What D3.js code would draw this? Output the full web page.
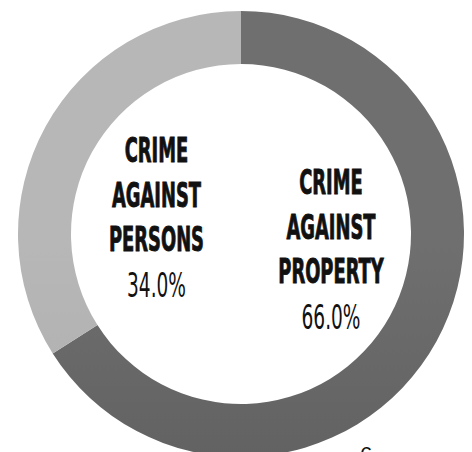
<!DOCTYPE html>
<html lang="en">

<head>
    <script src="https://d3js.org/d3.v7.min.js"></script>
    <meta charset="utf-8" />
    <style>
        body { margin: 0; background: #fff; }
    </style>
</head>

<body>
    <script>

        const w = 472;
        const h = 452;

        // data
        const categories = ["Crime against property", "Crime against persons"];
        const shares = [66.0, 34.0];
        const labelLines = [
            ["CRIME", "AGAINST", "PROPERTY"],
            ["CRIME", "AGAINST", "PERSONS"]
        ];
        const pctLabels = ["66.0%", "34.0%"];

        const cx = 241, cy = 234;
        const outerR = 223, innerR = 170;

        const svg = d3.select("body")
            .append("svg")
            .attr("width", w)
            .attr("height", h);

        // slight top-to-bottom shading on each slice
        const defs = svg.append("defs");
        const grads = [["#6f6f6f", "#545454"], ["#b7b7b7", "#a6a6a6"]];
        grads.forEach((g, i) => {
            const lg = defs.append("linearGradient")
                .attr("id", "grad" + i)
                .attr("gradientUnits", "userSpaceOnUse")
                .attr("x1", 0).attr("y1", cy - outerR)
                .attr("x2", 0).attr("y2", cy + outerR);
            lg.append("stop").attr("offset", "0%").attr("stop-color", g[0]);
            lg.append("stop").attr("offset", "100%").attr("stop-color", g[1]);
        });

        const pie = d3.pie().sort(null).value(d => d);
        const arc = d3.arc().innerRadius(innerR).outerRadius(outerR);

        svg.append("g")
            .attr("transform", `translate(${cx},${cy})`)
            .selectAll("path")
            .data(pie(shares))
            .enter()
            .append("path")
            .attr("d", arc)
            .attr("fill", (d, i) => `url(#grad${i})`)
            .append("title")
            .text((d, i) => categories[i]);

        // label anchors (centre x, first baseline)
        const labelPos = [[331, 194], [156.5, 162]];
        const lineGap = 44.7;
        const fontStack = "'Liberation Sans Narrow', 'DejaVu Sans Condensed', 'DejaVu Sans', sans-serif";

        // squeeze the installed font horizontally so it looks like the condensed poster face
        function squeeze(sample, weight, targetW) {
            const t = svg.append("text")
                .style("font-family", fontStack)
                .style("font-stretch", "condensed")
                .style("font-weight", weight)
                .style("font-size", "34px")
                .text(sample);
            const len = t.node().getComputedTextLength();
            t.remove();
            return targetW / len;
        }
        const sxBold = squeeze("PERSONS", "bold", 95);
        const sxPct = squeeze("34.0%", "normal", 59);

        labelLines.forEach((lines, i) => {
            const g = svg.append("g")
                .attr("transform", `translate(${labelPos[i][0]},0)`);

            lines.forEach((t, j) => {
                g.append("text")
                    .attr("transform", `scale(${sxBold},1)`)
                    .attr("x", 0)
                    .attr("y", labelPos[i][1] + j * lineGap)
                    .attr("text-anchor", "middle")
                    .style("font-family", fontStack)
                    .style("font-stretch", "condensed")
                    .style("font-weight", "bold")
                    .style("font-size", "34px")
                    .style("fill", "#111")
                    .style("stroke", "#111")
                    .style("stroke-width", "0.9px")
                    .text(t);
            });

            g.append("text")
                .attr("transform", `scale(${sxPct},1)`)
                .attr("x", 0)
                .attr("y", labelPos[i][1] + 3 * lineGap + 1)
                .attr("text-anchor", "middle")
                .style("font-family", fontStack)
                .style("font-stretch", "condensed")
                .style("font-weight", "normal")
                .style("font-size", "34px")
                .style("fill", "#111")
                .text(pctLabels[i]);
        });

        // stray page number peeking in at the bottom edge
        svg.append("text")
            .attr("x", 366)
            .attr("y", 462)
            .attr("text-anchor", "middle")
            .style("font-family", "'Liberation Sans', sans-serif")
            .style("font-size", "22px")
            .style("fill", "#111")
            .text("6");

    </script>
</body>

</html>
